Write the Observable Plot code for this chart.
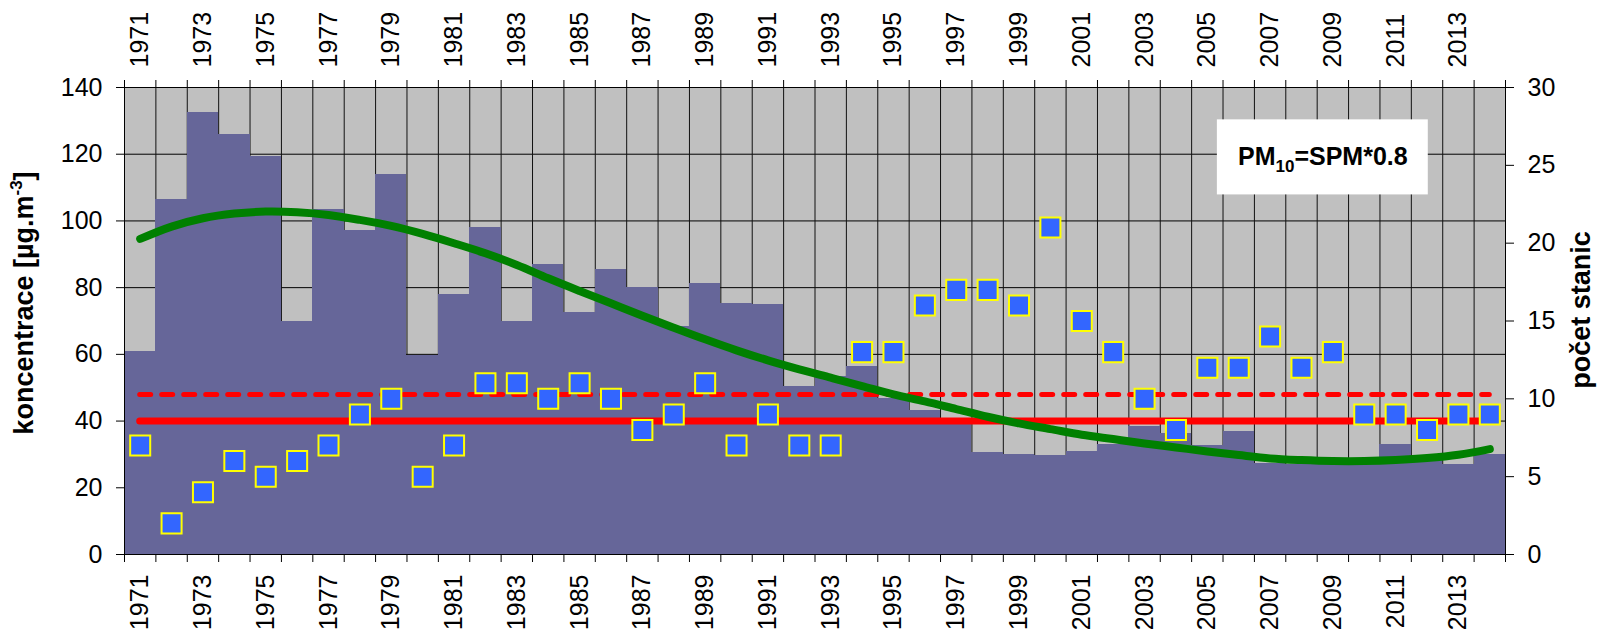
<!DOCTYPE html>
<html>
<head>
<meta charset="utf-8">
<script src="https://cdn.jsdelivr.net/npm/d3@7"></script>
<script src="https://cdn.jsdelivr.net/npm/@observablehq/plot@0.6"></script>
<style>
  html, body { margin: 0; padding: 0; background: #fff; }
  svg { display: block; }
</style>
</head>
<body>
<div id="chart"></div>
<script>
// ---- data ----
const years = [1971,1972,1973,1974,1975,1976,1977,1978,1979,1980,
               1981,1982,1983,1984,1985,1986,1987,1988,1989,1990,
               1991,1992,1993,1994,1995,1996,1997,1998,1999,2000,
               2001,2002,2003,2004,2005,2006,2007,2008,2009,2010,
               2011,2012,2013,2014];
// PM10 concentration [µg.m-3] (bars, left axis)
const concentration = [61,106.4,132.5,125.9,119.3,70,103.5,97,113.8,59.7,
                       78,98.1,70,86.8,72.6,85.3,80,68.5,81.3,75.3,
                       74.8,50.5,53.5,56.5,46.7,43.3,40.5,30.6,29.9,29.6,
                       30.9,32.9,38.3,36.3,32.7,37,27.3,26.9,28.3,28,
                       32.9,29.5,26.9,29.9];
// number of stations (squares, right axis)
const stations = [7,2,4,6,5,6,7,9,10,5,
                  7,11,11,10,11,10,8,9,11,7,
                  9,7,7,13,13,16,17,17,16,21,
                  15,13,10,8,12,12,14,12,13,9,
                  9,8,9,9];
// trend line values (green)
const trend = [94.6,98.3,100.8,102.2,102.8,102.6,101.8,100.3,98.5,96.1,
               93.3,90.3,86.8,82.8,79,75.3,71.6,68,64.5,61.2,
               58.2,55.5,53,50.5,48,45.9,43.6,41.3,39.3,37.6,
               35.9,34.6,33.3,32.1,30.9,29.8,28.8,28.3,28,28,
               28.3,28.9,29.9,31.6];
const limitValue = 40;          // solid red
const limitWithMargin = 48;     // dashed red
const concTicks = [0,20,40,60,80,100,120,140];
const stationTicks = [0,5,10,15,20,25,30];
const labelYears = [1971,1973,1975,1977,1979,1981,1983,1985,1987,1989,1991,
                    1993,1995,1997,1999,2001,2003,2005,2007,2009,2011,2013];
const noteLabel = "PM10=SPM*0.8";
const noteBox = {x1: 2005.32, x2: 2012.04, y1: 107.8, y2: 130.3};

// ---- derived ----
const k = concTicks[concTicks.length-1] / stationTicks[stationTicks.length-1];
const data = years.map((year, i) => ({year, conc: concentration[i], st: stations[i] * k, trend: trend[i]}));
const boundaries = years.map(y => y - 0.5).concat([years[years.length-1] + 0.5]);
const y0 = years[0], yN = years[years.length-1];
const FS = 25;

const plot = Plot.plot({
  width: 1599,
  height: 631,
  marginLeft: 124,
  marginRight: 94,
  marginTop: 87,
  marginBottom: 77,
  style: {fontFamily: "Arial, 'Liberation Sans', sans-serif", fontSize: FS + "px", color: "black", background: "white", overflow: "visible"},
  x: {type: "linear", domain: [y0 - 0.5, yN + 0.5]},
  y: {domain: [0, 140]},
  marks: [
    Plot.frame({fill: "#c0c0c0"}),
    Plot.ruleY(concTicks, {stroke: "#000", strokeWidth: 1}),
    Plot.ruleX(boundaries, {stroke: "#111", strokeWidth: 1}),
    Plot.rectY(data, {x1: d => d.year - 0.5, x2: d => d.year + 0.5, y: "conc", fill: "#666699", shapeRendering: "crispEdges"}),
    Plot.ruleY([limitValue], {x1: y0, x2: yN, stroke: "#ff0000", strokeWidth: 7, strokeLinecap: "round"}),
    Plot.ruleY([limitWithMargin], {x1: y0, x2: yN, stroke: "#ff0000", strokeWidth: 5, strokeDasharray: "11,11", strokeLinecap: "round"}),
    Plot.line(data, {x: "year", y: "trend", stroke: "#008000", strokeWidth: 8, strokeLinecap: "round", curve: "catmull-rom"}),
    Plot.dot(data, {x: "year", y: "st", symbol: "square", r: 11.3, fill: "#3366ff", stroke: "#ffff00", strokeWidth: 2}),
    // axes
    Plot.axisY({anchor: "left", ticks: concTicks, tickSize: 8, tickPadding: 14, label: null, fontSize: FS}),
    Plot.axisY({anchor: "right", ticks: stationTicks.map(v => v * k), tickFormat: v => String(Math.round(v / k)), tickSize: 8, tickPadding: 14, label: null, fontSize: FS}),
    Plot.axisX({anchor: "bottom", ticks: boundaries, tickSize: 8, tickFormat: () => "", label: null}),
    Plot.axisX({anchor: "top", ticks: boundaries, tickSize: 8, tickFormat: () => "", label: null}),
    Plot.axisX({anchor: "bottom", ticks: labelYears, tickSize: 0, tickPadding: 20, tickRotate: -90, tickFormat: d => String(d), label: null, fontSize: FS}),
    Plot.axisX({anchor: "top", ticks: labelYears, tickSize: 0, tickPadding: 20, tickRotate: -90, tickFormat: d => String(d), label: null, fontSize: FS}),
    Plot.frame({stroke: "#000", strokeWidth: 1}),
    Plot.rect([noteBox], {x1: "x1", x2: "x2", y1: "y1", y2: "y2", fill: "white"}),
    Plot.text([noteLabel], {x: (noteBox.x1 + noteBox.x2) / 2, y: (noteBox.y1 + noteBox.y2) / 2, text: d => d, fontWeight: "bold", fontSize: FS, className: "note"})
  ]
});

document.getElementById("chart").appendChild(plot);

const svg = d3.select(plot);

// subscript in the note
const noteText = svg.select("g.note text");
noteText.text("");
noteText.append("tspan").text("PM");
noteText.append("tspan").attr("font-size", 17).attr("dy", 7).text("10");
noteText.append("tspan").attr("font-size", FS).attr("dy", -7).text("=SPM*0.8");

// axis titles
const yTitle = svg.append("text")
  .attr("transform", "translate(33,303) rotate(-90)")
  .attr("text-anchor", "middle")
  .attr("font-weight", "bold")
  .attr("font-size", 27)
  .attr("fill", "black");
yTitle.append("tspan").text("koncentrace [µg.m");
yTitle.append("tspan").attr("font-size", 17).attr("dy", -11).text("-3");
yTitle.append("tspan").attr("font-size", 27).attr("dy", 11).text("]");

svg.append("text")
  .attr("transform", "translate(1590,310) rotate(-90)")
  .attr("text-anchor", "middle")
  .attr("font-weight", "bold")
  .attr("font-size", 27)
  .attr("fill", "black")
  .text("počet stanic");
</script>
</body>
</html>
